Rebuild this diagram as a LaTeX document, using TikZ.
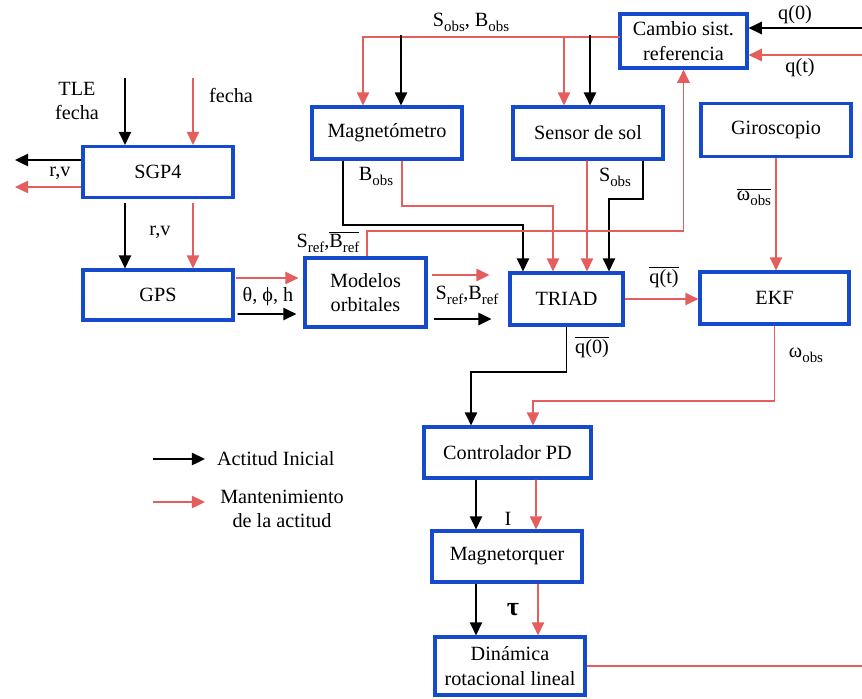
\documentclass[tikz,border=0pt]{standalone}
\usepackage{fontspec}
\setmainfont{Liberation Serif}
\usetikzlibrary{arrows.meta,positioning,calc}
\definecolor{boxBlue}{RGB}{22,74,204}
\definecolor{lineRed}{RGB}{228,94,94}
\newcommand{\lowidx}[1]{\raisebox{-0.55ex}{\fontsize{8.5}{9}\selectfont #1}}
\newcommand{\barred}[1]{$\overline{\hbox{#1}}$}

\begin{document}
\begin{tikzpicture}[x=0.02cm,y=-0.02cm,
  block/.style={rectangle,draw=boxBlue,line width=1.8pt,fill=white,align=center,
                inner sep=1pt,font=\fontsize{11.5}{14}\selectfont},
  lbl/.style={inner sep=1pt,align=center,font=\fontsize{11.5}{14}\selectfont},
  arrow/.style={-{Triangle[length=7.5pt,width=7pt]},line width=1.1pt,color=#1},
  wire/.style={line width=1.1pt,color=#1}
]
\useasboundingbox (0,0) rectangle (862,698);
% Blocks
\node[block,minimum width=2.54cm,minimum height=1.08cm] (cam) at (683.5,41) {Cambio sist.\\referencia};
\node[block,minimum width=3cm,minimum height=1.04cm] (mag) at (387,133) {Magnetómetro};
\node[block,minimum width=3cm,minimum height=1.04cm] (sen) at (588,133) {Sensor de sol};
\node[block,minimum width=3cm,minimum height=1.06cm] (gyr) at (776,130) {Giroscopio};
\node[block,minimum width=3cm,minimum height=1.02cm] (sgp) at (158,172) {SGP4};
\node[block,minimum width=3cm,minimum height=1cm] (gps) at (158,295) {GPS};
\node[block,minimum width=2.42cm,minimum height=1.38cm] (mod) at (365.5,292.5) {Modelos\\orbitales};
\node[block,minimum width=2.26cm,minimum height=1.04cm] (trd) at (566.5,299) {TRIAD};
\node[block,minimum width=2.98cm,minimum height=1.04cm] (ekf) at (774.5,298) {EKF};
\node[block,minimum width=3.34cm,minimum height=1.02cm] (ctl) at (507.5,452.5) {Controlador PD};
\node[block,minimum width=3cm,minimum height=1.02cm] (mtq) at (507,556.5) {Magnetorquer};
\node[block,minimum width=3cm,minimum height=1.16cm] (din) at (510,666) {Dinámica\\rotacional lineal};
% Free ends
\coordinate (bus) at (620,37);
\coordinate (q0in) at (862,28);
\coordinate (qtin) at (862,55);
\coordinate (tle) at (125,78);
\coordinate (fec) at (193,78);
\coordinate (rvk) at (15,160);
\coordinate (rvr) at (15,187);
\coordinate (dout) at (862,667);
% Top bus to sensors
\draw[wire=lineRed] ($(cam.west)+(0,-4)$) -- (bus);
\draw[arrow=lineRed] (bus) -| ($(mag.north)+(-24,0)$);
\draw[arrow=lineRed] (bus) -| ($(sen.north)+(-24,0)$);
\draw[arrow=black] ($(mag.north)+(14,-70)$) -- ($(mag.north)+(14,0)$);
\draw[arrow=black] ($(sen.north)+(2,-70)$) -- ($(sen.north)+(2,0)$);
% Inputs to Cambio
\draw[arrow=black] (q0in) -- (q0in -| cam.east);
\draw[arrow=lineRed] (qtin) -- (qtin -| cam.east);
% Sensors to TRIAD
\draw[arrow=black] ($(mag.south)+(-44,0)$) -- ++(0,64) -| ($(trd.north)+(-43.5,0)$);
\draw[arrow=lineRed] ($(mag.south)+(15,0)$) -- ++(0,45) -| ($(trd.north)+(-13.5,0)$);
\draw[arrow=lineRed] ($(sen.south)+(-1,0)$) -- ($(trd.north)+(20.5,0)$);
\draw[arrow=black] ($(sen.south)+(55,0)$) -- ++(0,38) -| ($(trd.north)+(42.5,0)$);
% Modelos to Cambio
\draw[arrow=lineRed] ($(mod.north)+(1.5,0)$) -- ++(0,-25) -| (cam.south);
% Gyro, TRIAD, EKF
\draw[arrow=lineRed] (gyr.south) -- (gyr.south |- ekf.north);
\draw[arrow=lineRed] (trd.east) -- (trd.east -| ekf.west);
\draw[arrow=black] (trd.south) -- ++(0,45) -| ($(ctl.north)+(-36.5,0)$);
\draw[arrow=lineRed] (ekf.south) -- ++(0,75) -| ($(ctl.north)+(25.5,0)$);
% Control chain
\draw[arrow=black] ($(ctl.south)+(-31.5,0)$) -- ($(mtq.north)+(-31,0)$);
\draw[arrow=lineRed] ($(ctl.south)+(28.5,0)$) -- ($(mtq.north)+(29,0)$);
\draw[arrow=black] ($(mtq.south)+(-31,0)$) -- ($(din.north)+(-34,0)$);
\draw[arrow=lineRed] ($(mtq.south)+(31,0)$) -- ($(din.north)+(28,0)$);
\draw[wire=lineRed] (din.east) -- (din.east -| dout);
% SGP4 and GPS
\draw[arrow=black] (tle) -- (tle |- sgp.north);
\draw[arrow=lineRed] (fec) -- (fec |- sgp.north);
\draw[arrow=black] (sgp.west |- rvk) -- (rvk);
\draw[arrow=lineRed] (sgp.west |- rvr) -- (rvr);
\draw[arrow=black] ($(sgp.south)+(-33,4)$) -- ($(gps.north)+(-33,0)$);
\draw[arrow=lineRed] ($(sgp.south)+(35,4)$) -- ($(gps.north)+(35,0)$);
\draw[arrow=lineRed] ($(gps.east)+(1,-17)$) -- ($(mod.west)+(-5,-14.5)$);
\draw[arrow=black] ($(gps.east)+(3,19)$) -- ($(mod.west)+(-7,21.5)$);
\draw[arrow=lineRed] ($(mod.east)+(4,-17.5)$) -- ++(58,0);
\draw[arrow=black] ($(mod.east)+(6,26.5)$) -- ++(58,0);
% Labels
\node[lbl] (lobs) at (471,22) {S\lowidx{obs}, B\lowidx{obs}};
\node[lbl] (lq0) at (795,15) {q(0)};
\node[lbl] (lqt) at (800,68) {q(t)};
\node[lbl] (ltle) at (77,101) {TLE\\fecha};
\node[lbl] (lfec) at (231,95) {fecha};
\node[lbl] (lrv1) at (60,173) {r,v};
\node[lbl] (lrv2) at (160,232) {r,v};
\node[lbl] (lang) at (268,297) {θ, ϕ, h};
\node[lbl] (lref1) at (328,242) {S\lowidx{ref},\barred{B\lowidx{ref}}};
\node[lbl] (lref2) at (467,295) {S\lowidx{ref},B\lowidx{ref}};
\node[lbl] (lbobs) at (376,176) {B\lowidx{obs}};
\node[lbl] (lsobs) at (615,177) {S\lowidx{obs}};
\node[lbl] (lwg) at (754,197) {\barred{ω\lowidx{obs}}};
\node[lbl] (lqtb) at (664,277) {\barred{q(t)}};
\node[lbl] (lwo) at (806,355) {ω\lowidx{obs}};
\node[lbl] (lq0b) at (592,347) {\barred{q(0)}};
\node[lbl] (lcur) at (508,519) {I};
\node[lbl] (ltau) at (513,610) {\fontsize{15}{16}\selectfont\bfseries τ};
% Legend
\node[lbl,anchor=west] (leg1) at (215,459) {Actitud Inicial};
\node[lbl] (leg2) at (282,509) {Mantenimiento\\de la actitud};
\draw[arrow=black] ($(leg1.west)+(-62,0)$) -- ($(leg1.west)+(-10,0)$);
\draw[arrow=lineRed] (153,502) -- (205,502);
\end{tikzpicture}
\end{document}
